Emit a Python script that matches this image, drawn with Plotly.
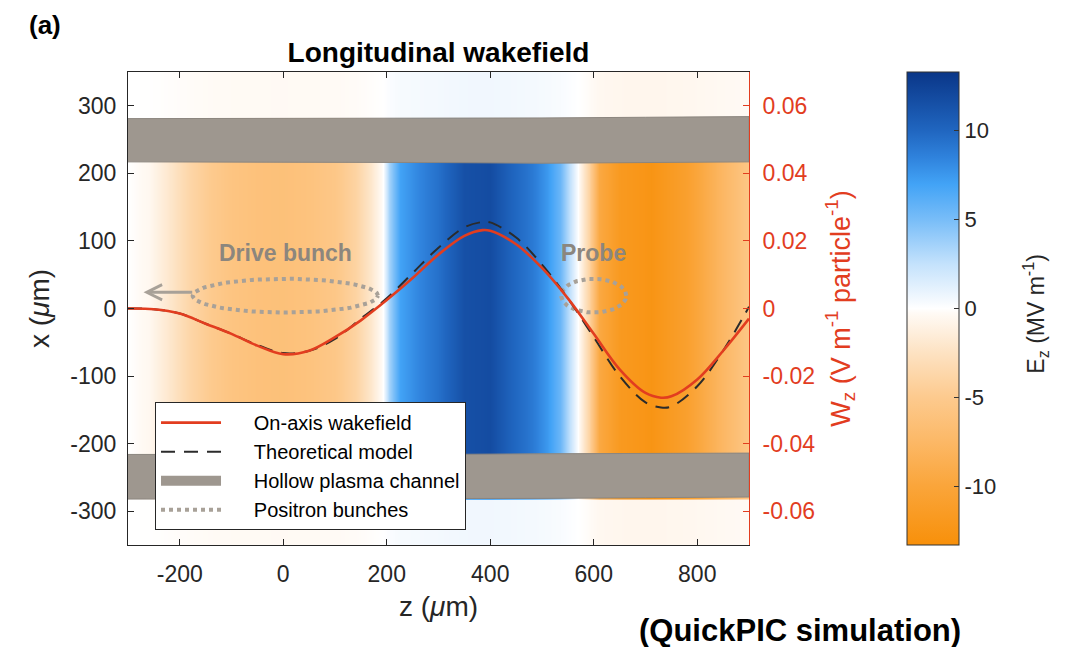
import numpy as np
import plotly.graph_objects as go

# ---- on-axis longitudinal field Ez (MV/m) sampled along z (um) ----
ez_z = [-300, -260, -220, -180, -140, -100, -50, 0, 50, 100, 140, 170, 192, 205, 225, 260,
        300, 350, 400, 440, 480, 510, 535, 555, 570, 590, 610, 650, 710, 780, 840, 900]
ez_val = [0, -0.5, -2, -3.8, -5, -5.8, -6.2, -6.3, -6.0, -5.4, -4, -2, 0, 3.5, 7, 8.3,
          9.5, 11.5, 11.8, 10.2, 9, 7.5, 5.5, 2.5, 0, -4, -9.5, -11.8, -12.6, -10.8, -8, -5.5]

# transverse rows of the map and relative field strength (weak outside the channel)
map_x = [-352, -283, -281, 281, 283, 352]
map_weight = [0.05, 0.05, 1, 1, 0.05, 0.05]

# ---- wakefield per particle (V/m/particle) ----
wz_z = [-300, -250, -200, -150, -100, -50, 0, 50, 100, 150, 200, 250, 300, 350, 385, 400,
        450, 500, 550, 600, 650, 700, 730, 750, 800, 850, 900]
wz_sim = [0, -0.0002, -0.0015, -0.0045, -0.0075, -0.0110, -0.0135, -0.0125, -0.0085, -0.0035,
          0.0025, 0.0090, 0.0160, 0.0215, 0.0232, 0.0230, 0.0190, 0.0120, 0.0030, -0.0075,
          -0.0180, -0.0250, -0.0264, -0.0260, -0.0210, -0.0125, -0.0030]
wz_theory = [0, -0.0002, -0.0015, -0.0045, -0.0075, -0.0108, -0.0132, -0.0125, -0.0090, -0.0030,
             0.0030, 0.0105, 0.0180, 0.0240, 0.0256, 0.0255, 0.0210, 0.0130, 0.0030, -0.0085,
             -0.0200, -0.0278, -0.0293, -0.0290, -0.0230, -0.0125, 0.0005]

# ---- hollow plasma channel walls (um) ----
ch_z = [-300, 0, 300, 500, 700, 900]
ch_up_outer = [281, 281, 281, 282, 283, 284]
ch_up_inner = [217, 217, 216, 215, 216, 217]
ch_lo_inner = [-216, -216, -216, -215, -214, -214]
ch_lo_outer = [-282, -282, -282, -281, -280, -279]

# ---- positron bunches: centre z, centre x, half length, half width (um) ----
bunch_names = ["Drive bunch", "Probe"]
bunch_zc = [4, 600]
bunch_xc = [19, 19]
bunch_hz = [179, 63]
bunch_hx = [25, 25]

RED = "#e23d1f"
GREY = "#9e978f"
DOT = "#a8a198"
TXT = "#262626"
FONT = "Liberation Sans, Arial, Helvetica, sans-serif"
PAD = "\u00a0" * 5

colorscale = [
    [0.000, "#f8900a"], [0.124, "#faa53a"], [0.218, "#fcb866"], [0.312, "#fdca8e"],
    [0.406, "#fde2c2"], [0.490, "#fffaf5"], [0.500, "#ffffff"], [0.520, "#f2f8fe"],
    [0.594, "#c4e2fc"], [0.688, "#78bdf8"], [0.763, "#42a3f6"], [0.820, "#2f82dc"],
    [0.876, "#2066c0"], [1.000, "#0a3688"],
]

fig = go.Figure()

fig.add_trace(go.Heatmap(
    x=ez_z, y=map_x, z=[[w * e for e in ez_val] for w in map_weight],
    zmin=-13.3, zmax=13.3, zsmooth="best", colorscale=colorscale, showlegend=False,
    hoverinfo="skip",
    colorbar=dict(
        x=1.2544, xanchor="left", xref="paper", xpad=0, ypad=0,
        thickness=52, thicknessmode="pixels",
        len=1, lenmode="fraction", y=0.5, yanchor="middle",
        outlinecolor="#333333", outlinewidth=1, ticks="inside", ticklen=5,
        tickcolor="#333333", tickvals=[-10, -5, 0, 5, 10],
        ticktext=["-10", "-5", "0", "5", "10"],
        tickfont=dict(size=22, color=TXT, family=FONT),
    ),
))

# channel walls
for outer, inner in ((ch_up_outer, ch_up_inner), (ch_lo_outer, ch_lo_inner)):
    fig.add_trace(go.Scatter(
        x=ch_z + ch_z[::-1], y=outer + inner[::-1], fill="toself", fillcolor=GREY,
        mode="lines", line=dict(color="#8c867f", width=1), showlegend=False, hoverinfo="skip",
    ))

# positron bunch outlines
theta = np.linspace(0, 2 * np.pi, 121)
for i in range(len(bunch_zc)):
    fig.add_trace(go.Scatter(
        x=bunch_zc[i] + bunch_hz[i] * np.cos(theta), y=bunch_xc[i] + bunch_hx[i] * np.sin(theta),
        mode="lines", line=dict(color=DOT, width=4, dash="dot"),
        name=PAD + "Positron bunches", showlegend=(i == 0), legendrank=4, hoverinfo="skip",
    ))

# legend swatch for the channel
fig.add_trace(go.Scatter(
    x=[None], y=[None], mode="lines", line=dict(color=GREY, width=16),
    name=PAD + "Hollow plasma channel", legendrank=3,
))

fig.add_trace(go.Scatter(
    x=wz_z, y=wz_theory, yaxis="y2", mode="lines", line_shape="spline",
    line=dict(color="#2b2b2b", width=2, dash="14px,9px"),
    name=PAD + "Theoretical model", legendrank=2,
))
fig.add_trace(go.Scatter(
    x=wz_z, y=wz_sim, yaxis="y2", mode="lines", line_shape="spline",
    line=dict(color=RED, width=2.6),
    name=PAD + "On-axis wakefield", legendrank=1,
))

annotations = [
    dict(x=bunch_zc[0] - bunch_hz[0] - 95, y=24, ax=bunch_zc[0] - bunch_hz[0] + 2, ay=24,
         xref="x", yref="y", axref="x", ayref="y", text="", showarrow=True,
         arrowhead=5, arrowsize=1, arrowwidth=3, arrowcolor=DOT),
    dict(x=-0.1337, y=1.099, xref="paper", yref="paper", xanchor="center", yanchor="middle",
         text="<b>(a)</b>", showarrow=False, font=dict(size=26, color="black", family=FONT)),
    dict(x=1.0829, y=-0.18, xref="paper", yref="paper", xanchor="center", yanchor="middle",
         text="<b>(QuickPIC simulation)</b>", showarrow=False,
         font=dict(size=31, color="black", family=FONT)),
    dict(x=(1035 - 128) / 621, y=0.487, xref="paper", yref="paper", xanchor="center",
         yanchor="middle", textangle=-90, showarrow=False,
         text="E<sub>z</sub> (MV m<sup>-1</sup>)", font=dict(size=23, color=TXT, family=FONT)),
]
for name, zc in zip(bunch_names, bunch_zc):
    annotations.append(dict(x=zc, y=82, xref="x", yref="y", text=f"<b>{name}</b>",
                            showarrow=False, font=dict(size=23, color="#8c867e", family=FONT)))

fig.update_layout(
    width=1067, height=647,
    margin=dict(l=128, r=318, t=72, b=102),
    paper_bgcolor="white", plot_bgcolor="white",
    font=dict(family=FONT, color=TXT),
    title=dict(text="<b>Longitudinal wakefield</b>", x=0.5, xref="paper", xanchor="center",
               y=1 - 52 / 647, yref="container", yanchor="middle",
               font=dict(size=28, color="black", family=FONT)),
    xaxis=dict(range=[-300, 900], tickvals=[-200, 0, 200, 400, 600, 800],
               ticktext=["-200", "0", "200", "400", "600", "800"],
               ticks="inside", ticklen=6, tickcolor=TXT, showline=True,
               linecolor=TXT, linewidth=1, mirror="ticks", showgrid=False, zeroline=False,
               tickfont=dict(size=23), ticklabelstandoff=8,
               title=dict(text="z (<i>μ</i>m)", font=dict(size=28), standoff=10)),
    yaxis=dict(range=[-350, 350], tickvals=[-300, -200, -100, 0, 100, 200, 300],
               ticktext=["-300", "-200", "-100", "0", "100", "200", "300"],
               ticks="inside", ticklen=6, tickcolor=TXT, showline=True,
               linecolor=TXT, linewidth=1, showgrid=False, zeroline=False,
               tickfont=dict(size=23), ticklabelstandoff=6,
               title=dict(text="x (<i>μ</i>m)", font=dict(size=28), standoff=12)),
    yaxis2=dict(range=[-0.07, 0.07], overlaying="y", side="right",
                tickvals=[-0.06, -0.04, -0.02, 0, 0.02, 0.04, 0.06],
                ticktext=["-0.06", "-0.04", "-0.02", "0", "0.02", "0.04", "0.06"],
                ticks="inside", ticklen=6, tickcolor=RED, showline=True, linecolor=RED,
                linewidth=1, showgrid=False, zeroline=False,
                tickfont=dict(size=23, color=RED), ticklabelstandoff=8,
                title=dict(text="W<sub>z</sub> (V m<sup>-1</sup> particle<sup>-1</sup>)",
                           font=dict(size=27, color=RED), standoff=16)),
    legend=dict(x=0.0435, y=0.302, xanchor="left", yanchor="top", bgcolor="white",
                bordercolor=TXT, borderwidth=1, font=dict(size=20, color="black"),
                itemwidth=60, tracegroupgap=0),
    annotations=annotations,
    showlegend=True,
)

fig.write_html("out.html")
